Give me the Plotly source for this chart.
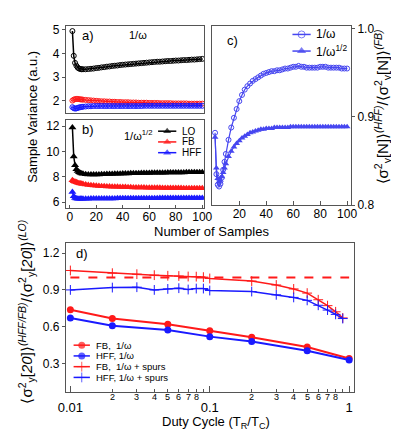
import math
import plotly.graph_objects as go

W, H = 399, 437
FONT = "Liberation Sans, Arial, sans-serif"

# ---------------- data ----------------
N = list(range(2, 11)) + list(range(12, 101, 2))

a_LO = [4.95, 3.90, 3.60, 3.48, 3.40, 3.36, 3.34, 3.33, 3.33,
        3.33, 3.34, 3.35, 3.36, 3.38,
        3.39, 3.41, 3.42, 3.44, 3.45,
        3.47, 3.48, 3.49, 3.51, 3.52,
        3.53, 3.54, 3.55, 3.56, 3.57,
        3.58, 3.59, 3.60, 3.61, 3.62,
        3.63, 3.64, 3.65, 3.65, 3.66,
        3.67, 3.68, 3.68, 3.69, 3.70,
        3.70, 3.71, 3.72, 3.72, 3.73,
        3.74, 3.74, 3.75, 3.76, 3.77]
a_FB = [2.00, 2.04, 2.06, 2.07, 2.07, 2.06, 2.05, 2.05, 2.04,
        2.03, 2.02, 2.01, 2.00, 1.99,
        1.98, 1.97, 1.97, 1.96, 1.96,
        1.95, 1.95, 1.94, 1.94, 1.93,
        1.93, 1.93, 1.92, 1.92, 1.92,
        1.91, 1.91, 1.91, 1.91, 1.90,
        1.90, 1.90, 1.90, 1.89, 1.89,
        1.89, 1.89, 1.89, 1.88, 1.88,
        1.88, 1.88, 1.88, 1.88, 1.87,
        1.87, 1.87, 1.87, 1.87, 1.87]
a_HFF = [1.72, 1.68, 1.66, 1.67, 1.69, 1.71, 1.72, 1.73, 1.74,
         1.75, 1.76, 1.76, 1.77, 1.77,
         1.77, 1.77, 1.77, 1.77, 1.77,
         1.77, 1.77, 1.77, 1.77, 1.77,
         1.77, 1.77, 1.77, 1.77, 1.77,
         1.77, 1.77, 1.78, 1.78, 1.78,
         1.78, 1.78, 1.78, 1.78, 1.78,
         1.78, 1.78, 1.78, 1.78, 1.78,
         1.78, 1.78, 1.78, 1.78, 1.78,
         1.78, 1.78, 1.78, 1.78, 1.78]

b_LO = [11.9, 9.6, 8.9, 8.6, 8.45, 8.36, 8.30, 8.26, 8.23,
        8.20, 8.18, 8.17, 8.17, 8.17,
        8.18, 8.19, 8.20, 8.21, 8.22,
        8.22, 8.23, 8.24, 8.24, 8.25,
        8.26, 8.26, 8.27, 8.27, 8.28,
        8.28, 8.29, 8.29, 8.30, 8.30,
        8.31, 8.31, 8.31, 8.32, 8.32,
        8.32, 8.33, 8.33, 8.33, 8.34,
        8.34, 8.34, 8.34, 8.35, 8.35,
        8.35, 8.35, 8.36, 8.36, 8.36]
b_FB = [7.72, 7.65, 7.60, 7.56, 7.52, 7.49, 7.46, 7.44, 7.42,
        7.38, 7.35, 7.32, 7.30, 7.28,
        7.26, 7.25, 7.24, 7.23, 7.22,
        7.21, 7.20, 7.20, 7.19, 7.18,
        7.18, 7.17, 7.17, 7.16, 7.16,
        7.15, 7.15, 7.15, 7.14, 7.14,
        7.14, 7.13, 7.13, 7.13, 7.12,
        7.12, 7.12, 7.12, 7.11, 7.11,
        7.11, 7.11, 7.10, 7.10, 7.10,
        7.10, 7.10, 7.09, 7.09, 7.09]
b_HFF = [6.80, 6.45, 6.32, 6.28, 6.27, 6.27, 6.27, 6.27, 6.27,
         6.27, 6.27, 6.28, 6.28, 6.28,
         6.28, 6.28, 6.29, 6.29, 6.29,
         6.29, 6.29, 6.30, 6.30, 6.30,
         6.30, 6.30, 6.30, 6.30, 6.30,
         6.31, 6.31, 6.31, 6.31, 6.31,
         6.31, 6.31, 6.31, 6.32, 6.32,
         6.32, 6.32, 6.32, 6.32, 6.32,
         6.32, 6.32, 6.32, 6.32, 6.33,
         6.33, 6.33, 6.33, 6.33, 6.33]

c_inv = [0.882, 0.835, 0.823, 0.821, 0.824, 0.831, 0.840, 0.849, 0.858,
         0.874, 0.888, 0.899, 0.909, 0.918,
         0.925, 0.931, 0.935, 0.938, 0.941,
         0.943, 0.945, 0.947, 0.949, 0.950,
         0.951, 0.952, 0.952, 0.953, 0.953,
         0.954, 0.955, 0.955, 0.956, 0.957,
         0.957, 0.958, 0.957, 0.957, 0.956,
         0.956, 0.956, 0.956, 0.956, 0.957,
         0.957, 0.957, 0.956, 0.956, 0.956,
         0.956, 0.956, 0.955, 0.955, 0.955]
c_sqrt = [0.877, 0.842, 0.830, 0.826, 0.828, 0.832, 0.837, 0.842, 0.847,
          0.855, 0.861, 0.866, 0.870, 0.873,
          0.876, 0.878, 0.880, 0.882, 0.883,
          0.884, 0.885, 0.886, 0.886, 0.887,
          0.887, 0.887, 0.888, 0.888, 0.888,
          0.888, 0.888, 0.888, 0.889, 0.889,
          0.889, 0.889, 0.889, 0.889, 0.889,
          0.889, 0.889, 0.889, 0.889, 0.889,
          0.889, 0.889, 0.889, 0.889, 0.889,
          0.889, 0.889, 0.889, 0.889, 0.889]

duty = [0.01, 0.02, 0.05, 0.1, 0.2, 0.5, 1.0]
d_FB = [0.738, 0.668, 0.621, 0.568, 0.515, 0.435, 0.342]
d_HFF = [0.672, 0.608, 0.574, 0.520, 0.480, 0.405, 0.330]
duty_spurs = [0.01, 0.02, 0.03, 0.04, 0.05, 0.06, 0.07, 0.08, 0.09,
              0.1, 0.2, 0.3, 0.4, 0.5, 0.6, 0.7, 0.8, 0.9]
d_FB_spurs = [1.058, 1.036, 1.028, 1.020, 1.015, 1.013, 1.009, 1.008, 1.004,
              0.993, 0.972, 0.940, 0.908, 0.874, 0.820, 0.772, 0.722, 0.672]
d_HFF_spurs = [0.900, 0.919, 0.922, 0.900, 0.908, 0.914, 0.903, 0.911, 0.911,
               0.895, 0.887, 0.860, 0.839, 0.815, 0.775, 0.736, 0.701, 0.667]
ref_x = [0.01, 1.0]
ref_y = [1.0, 1.0]

ab_xticks = [0, 20, 40, 60, 80, 100]
a_yticks = [2, 3, 4, 5]
b_yticks = [6, 8, 10, 12]
c_xticks = [20, 40, 60, 80, 100]
c_yticks = [0.8, 0.9, 1.0]
d_yticks = [0.3, 0.6, 0.9, 1.2]
d_major = [0.01, 0.1, 1]
d_major_text = ["0.01", "0.1", "1"]
d_minor_digits = [2, 3, 4, 5, 6, 7, 8]

# ---------------- styling ----------------
BLACK, RED, BLUE = "#000000", "#ff1a1a", "#1a1aff"
CBLUE = "#4646f0"
AX = "#555555"


def fx(p):
    return p / W


def fy(p):
    return 1 - p / H


fig = go.Figure()

# panel a
for ys, col in [(a_LO, BLACK), (a_FB, RED), (a_HFF, BLUE)]:
    fig.add_trace(go.Scatter(x=N, y=ys, xaxis="x", yaxis="y", mode="lines+markers",
                             line=dict(color=col, width=1.5),
                             marker=dict(symbol="circle-open", size=5, color=col, line=dict(width=1)),
                             showlegend=False))
# panel b
for ys, col in [(b_LO, BLACK), (b_FB, RED), (b_HFF, BLUE)]:
    fig.add_trace(go.Scatter(x=N, y=ys, xaxis="x2", yaxis="y2", mode="lines+markers",
                             line=dict(color=col, width=1.5),
                             marker=dict(symbol="triangle-up", size=7, color=col),
                             showlegend=False))
# panel c
fig.add_trace(go.Scatter(x=N, y=c_inv, xaxis="x3", yaxis="y3", mode="lines+markers",
                         line=dict(color=CBLUE, width=1.2),
                         marker=dict(symbol="circle-open", size=5, color=CBLUE, line=dict(width=1)),
                         showlegend=False))
fig.add_trace(go.Scatter(x=N, y=c_sqrt, xaxis="x3", yaxis="y3", mode="lines+markers",
                         line=dict(color=CBLUE, width=1.2),
                         marker=dict(symbol="triangle-up", size=6, color=CBLUE),
                         showlegend=False))
# panel d
fig.add_trace(go.Scatter(x=ref_x, y=ref_y, xaxis="x4", yaxis="y4", mode="lines",
                         line=dict(color=RED, width=2, dash="dash"), showlegend=False))
fig.add_trace(go.Scatter(x=duty_spurs, y=d_FB_spurs, xaxis="x4", yaxis="y4", mode="lines+markers",
                         line=dict(color=RED, width=1.5),
                         marker=dict(symbol="cross-thin", size=7, color=RED, line=dict(width=1, color=RED)),
                         showlegend=False))
fig.add_trace(go.Scatter(x=duty_spurs, y=d_HFF_spurs, xaxis="x4", yaxis="y4", mode="lines+markers",
                         line=dict(color=BLUE, width=1.5),
                         marker=dict(symbol="cross-thin", size=7, color=BLUE, line=dict(width=1, color=BLUE)),
                         showlegend=False))
fig.add_trace(go.Scatter(x=duty, y=d_FB, xaxis="x4", yaxis="y4", mode="lines+markers",
                         line=dict(color=RED, width=2), marker=dict(symbol="circle", size=7, color=RED),
                         showlegend=False))
fig.add_trace(go.Scatter(x=duty, y=d_HFF, xaxis="x4", yaxis="y4", mode="lines+markers",
                         line=dict(color=BLUE, width=2), marker=dict(symbol="circle", size=7, color=BLUE),
                         showlegend=False))

# ---------------- hand-made compact legends (pixel overlay axis) ----------------
legend_keys = [
    # (x0, x1, y, color, symbol, size, marker line width)
    (148, 167, 123, BLACK, "triangle-up", 7, 0),
    (148, 167, 134, RED, "triangle-up", 7, 0),
    (148, 167, 145, BLUE, "triangle-up", 7, 0),
    (288, 307, 24, CBLUE, "circle-open", 7, 1),
    (288, 307, 41, CBLUE, "triangle-up", 8, 0),
    (60, 77, 342, RED, "circle", 7, 0),
    (60, 77, 353, BLUE, "circle", 7, 0),
    (60, 77, 364, RED, "cross-thin", 7, 1),
    (60, 77, 375, BLUE, "cross-thin", 7, 1),
]
for x0, x1, yy, col, sym, sz, lw in legend_keys:
    fig.add_trace(go.Scatter(x=[x0, (x0 + x1) / 2, x1], y=[yy, yy, yy], xaxis="x5", yaxis="y5",
                             mode="lines+markers", line=dict(color=col, width=1.5),
                             marker=dict(symbol=sym, size=[0, sz, 0], color=col,
                                         line=dict(width=lw, color=col)),
                             showlegend=False, hoverinfo="skip", cliponaxis=False))

legend_texts = [
    (171, 123, "LO", 10), (171, 134, "FB", 10), (171, 145, "HFF", 10),
    (310, 24, "1/ω", 12), (310, 41, "1/ω<sup>1/2</sup>", 12),
    (81, 342, "FB,  1/ω", 9.5), (81, 353, "HFF, 1/ω", 9.5),
    (81, 364, "FB,  1/ω + spurs", 9.5), (81, 375, "HFF, 1/ω + spurs", 9.5),
]

annotations = []
for xx, yy, t, fs in legend_texts:
    annotations.append(dict(x=fx(xx), y=fy(yy), xref="paper", yref="paper", text=t,
                            showarrow=False, xanchor="left", yanchor="middle",
                            font=dict(size=fs, color="black", family=FONT)))

# panel labels
for xx, yy, t, fs in [(67, 25, "a)", 13), (116, 25, "1/ω", 11), (67, 121, "b)", 13),
                      (110, 127, "1/ω<sup>1/2</sup>", 11), (218, 30, "c)", 13), (60, 248, "d)", 13)]:
    annotations.append(dict(x=fx(xx), y=fy(yy), xref="paper", yref="paper", text=t,
                            showarrow=False, xanchor="left", yanchor="middle",
                            font=dict(size=fs, color="black", family=FONT)))

# axis titles
title_specs = [
    (17, 108, "Sample Variance (a.u.)", -90, 13),
    (204, 226, "Number of Samples", 0, 13),
    (382, 98, "⟨σ<sup>2</sup><sub>y</sub>[N]⟩<sup><i>(HFF)</i></sup>/⟨σ<sup>2</sup><sub>y</sub>[N]⟩<sup><i>(FB)</i></sup>", -90, 15),
    (11, 308, "⟨σ<sup>2</sup><sub>y</sub>[<i>20</i>]⟩<sup><i>(HFF/FB)</i></sup>/⟨σ<sup>2</sup><sub>y</sub>[<i>20</i>]⟩<sup><i>(LO)</i></sup>", -90, 15),
    (208, 421, "Duty Cycle (T<sub>R</sub>/T<sub>C</sub>)", 0, 13),
]
for xx, yy, t, ang, fs in title_specs:
    annotations.append(dict(x=fx(xx), y=fy(yy), xref="paper", yref="paper", text=t,
                            textangle=ang, showarrow=False, xanchor="center", yanchor="middle",
                            font=dict(size=fs, family=FONT, color="black")))

# minor digit labels on log axis
for dec in [0.01, 0.1]:
    for dg in d_minor_digits:
        annotations.append(dict(x=math.log10(dec * dg), y=fy(395), xref="x4", yref="paper",
                                text=str(dg), showarrow=False, xanchor="center", yanchor="middle",
                                font=dict(size=9, family=FONT, color="black")))

minor_vals = [dec * dg for dec in [0.01, 0.1] for dg in range(2, 10)]

common = dict(showline=True, mirror=True, linecolor=AX, linewidth=1, showgrid=False,
              zeroline=False, tickcolor=AX, tickfont=dict(size=12, family=FONT, color="black"))

fig.update_layout(
    width=W, height=H, autosize=False,
    margin=dict(l=0, r=0, t=0, b=0),
    paper_bgcolor="white", plot_bgcolor="rgba(0,0,0,0)",
    font=dict(family=FONT, color="black"),
    showlegend=False,
    xaxis=dict(domain=[fx(52), fx(196)], range=[-2.9, 101.4], anchor="y", showticklabels=False,
               ticks="", **common),
    yaxis=dict(domain=[fy(104), fy(15)], range=[1.49, 5.18], anchor="x", tickvals=a_yticks,
               ticks="outside", ticklen=3, **common),
    xaxis2=dict(domain=[fx(52), fx(196)], range=[-2.9, 101.4], anchor="y2", tickvals=ab_xticks,
                ticks="inside", ticklen=3, ticklabelstandoff=-3, **common),
    yaxis2=dict(domain=[fy(202), fy(112)], range=[5.5, 12.45], anchor="x2", tickvals=b_yticks,
                ticks="outside", ticklen=3, **common),
    xaxis3=dict(domain=[fx(204), fx(349)], range=[-0.4, 102.9], anchor="y3", tickvals=c_xticks,
                ticks="inside", ticklen=4, ticklabelstandoff=-3, **common),
    yaxis3=dict(domain=[fy(199), fy(15)], range=[0.7995, 1.0037], anchor="x3", side="right",
                tickvals=c_yticks, tickformat=".1f", ticks="outside", ticklen=3, **common),
    xaxis4=dict(domain=[fx(52), fx(352)], type="log", range=[-2.032, 0.034], anchor="y4",
                tickvals=d_major, ticktext=d_major_text, ticks="inside", ticklen=6,
                ticklabelstandoff=3,
                minor=dict(tickvals=minor_vals, ticks="inside", ticklen=3, tickcolor=AX),
                showline=True, mirror=True, linecolor=AX, linewidth=1, showgrid=False,
                zeroline=False, tickcolor=AX, tickfont=dict(size=13, family=FONT, color="black")),
    yaxis4=dict(domain=[fy(390), fy(237)], range=[0.069, 1.285], anchor="x4", tickvals=d_yticks,
                tickformat=".1f", ticks="outside", ticklen=3, **common),
    xaxis5=dict(domain=[0, 1], range=[0, W], anchor="y5", visible=False, fixedrange=True),
    yaxis5=dict(domain=[0, 1], range=[H, 0], anchor="x5", visible=False, fixedrange=True),
    annotations=annotations,
)

fig.write_html("out.html")
